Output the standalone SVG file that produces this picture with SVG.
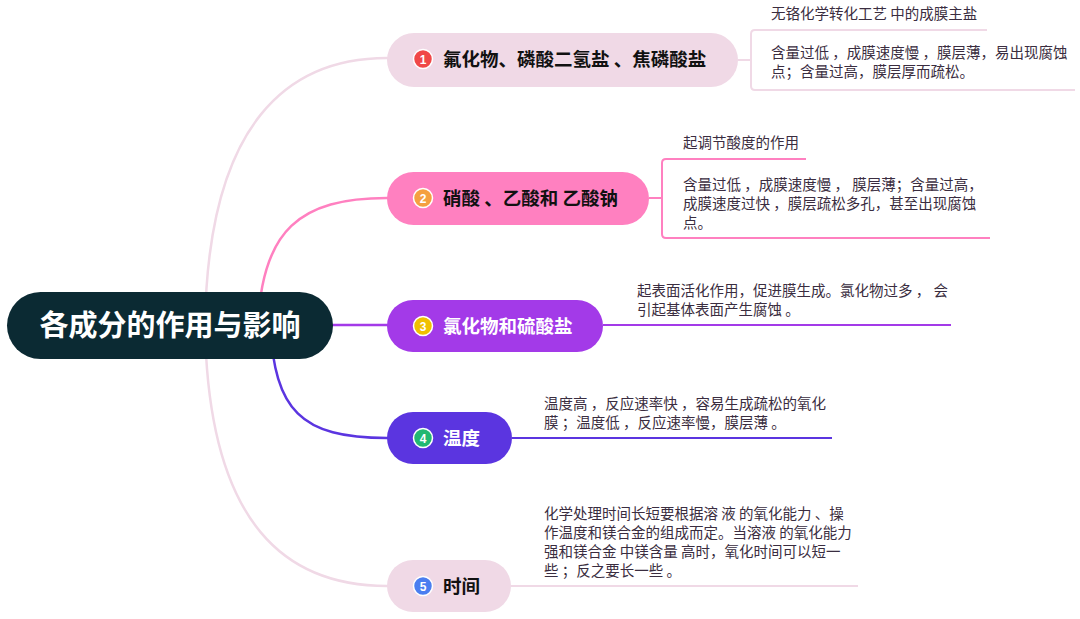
<svg xmlns="http://www.w3.org/2000/svg" width="1080" height="619" viewBox="0 0 1080 619">
<style>
.lbl{font-family:"Noto Sans CJK SC","Liberation Sans",sans-serif;font-weight:bold;font-size:18.5px}
.leaf{font-family:"Noto Sans CJK SC","Liberation Sans",sans-serif;font-size:14.5px;fill:#3a2d40}
.num{font-family:"Liberation Sans",sans-serif;font-weight:bold;font-size:12px;fill:#ffffff;text-anchor:middle}
.c{fill:none;stroke-width:2.5;stroke-linecap:round}
.l{fill:none;stroke-width:2}
</style>
<rect width="1080" height="619" fill="#ffffff"/>
<g id="connectors">
<path class="c" stroke="#f0d9e6" d="M205,325 C208,120 290,58 387,58"/>
<path class="c" stroke="#f0d9e6" d="M205,325 C208,530 290,586 387,586"/>
<path class="c" stroke="#ff80c0" d="M258,325 C262,230 300,198 387,198"/>
<path class="c" stroke="#a33ae8" d="M300,325 L387,325"/>
<path class="c" stroke="#5b35e0" d="M270,325 C275,410 300,438 387,438"/>
<path class="l" stroke="#f0d9e6" d="M738,60 L751,60 M987,30 L755,30 Q751,30 751,34 L751,86 Q751,90 755,90 L1075,90"/>
<path class="l" stroke="#ff80c0" d="M649,198 L662,198 M806,159 L666,159 Q662,159 662,163 L662,234 Q662,238 666,238 L990,238"/>
<path class="l" stroke="#a33ae8" d="M603,325 L951,325"/>
<path class="l" stroke="#5b35e0" d="M512,438 L832,438"/>
<path class="l" stroke="#f0d9e6" d="M511,586 L858,586"/>
</g>
<g id="root">
<rect x="7" y="292" width="326" height="67" rx="33.5" fill="#0b2a33"/>
<text x="170" y="336" text-anchor="middle" font-family="Noto Sans CJK SC,Liberation Sans,sans-serif" font-weight="bold" font-size="29" fill="#ffffff">各成分的作用与影响</text>
</g>
<g id="node1">
<rect x="387" y="33" width="351" height="54" rx="27" fill="#f0d9e6"/>
<circle cx="423" cy="59" r="9.5" fill="#f04848" stroke="#ffffff" stroke-width="1.5"/>
<text class="num" x="423" y="63.5">1</text>
<text class="lbl" x="443" y="66" fill="#111111">氟化物、磷酸二氢盐 、焦磷酸盐</text>
</g>
<g id="leaf1a"><text class="leaf" x="771" y="19">无铬化学转化工艺 中的成膜主盐</text></g>
<g id="leaf1b"><text class="leaf" x="771" y="58">含量过低 ，成膜速度慢 ，膜层薄，易出现腐蚀</text><text class="leaf" x="771" y="77">点；含量过高，膜层厚而疏松。</text></g>
<g id="node2">
<rect x="387" y="172" width="262" height="53" rx="26.5" fill="#ff80c0"/>
<circle cx="423" cy="198" r="9.5" fill="#f5a040" stroke="#ffffff" stroke-width="1.5"/>
<text class="num" x="423" y="202.5">2</text>
<text class="lbl" x="443" y="205" fill="#111111">硝酸 、乙酸和 乙酸钠</text>
</g>
<g id="leaf2a"><text class="leaf" x="683" y="148">起调节酸度的作用</text></g>
<g id="leaf2b"><text class="leaf" x="683" y="190">含量过低 ，成膜速度慢 ，  膜层薄；含量过高，</text><text class="leaf" x="683" y="209">成膜速度过快 ，膜层疏松多孔，甚至出现腐蚀</text><text class="leaf" x="683" y="228">点。</text></g>
<g id="node3">
<rect x="387" y="300" width="216" height="52" rx="26" fill="#a33ae8"/>
<circle cx="423" cy="326" r="9.5" fill="#f0c000" stroke="#ffffff" stroke-width="1.5"/>
<text class="num" x="423" y="330.5">3</text>
<text class="lbl" x="443" y="333" fill="#ffffff">氯化物和硫酸盐</text>
</g>
<g id="leaf3"><text class="leaf" x="637" y="296">起表面活化作用，促进膜生成。氯化物过多 ，  会</text><text class="leaf" x="637" y="315">引起基体表面产生腐蚀 。</text></g>
<g id="node4">
<rect x="387" y="412" width="125" height="52" rx="26" fill="#5b35e0"/>
<circle cx="423" cy="438" r="9.5" fill="#22b872" stroke="#ffffff" stroke-width="1.5"/>
<text class="num" x="423" y="442.5">4</text>
<text class="lbl" x="443" y="445" fill="#ffffff">温度</text>
</g>
<g id="leaf4"><text class="leaf" x="544" y="409">温度高 ，反应速率快 ，容易生成疏松的氧化</text><text class="leaf" x="544" y="428">膜 ；温度低 ，反应速率慢，膜层薄 。</text></g>
<g id="node5">
<rect x="387" y="560" width="124" height="52" rx="26" fill="#f0d9e6"/>
<circle cx="423" cy="586" r="9.5" fill="#4a7ef0" stroke="#ffffff" stroke-width="1.5"/>
<text class="num" x="423" y="590.5">5</text>
<text class="lbl" x="443" y="593" fill="#111111">时间</text>
</g>
<g id="leaf5"><text class="leaf" x="544" y="519">化学处理时间长短要根据溶 液 的氧化能力 、操</text><text class="leaf" x="544" y="538">作温度和镁合金的组成而定。当溶液 的氧化能力</text><text class="leaf" x="544" y="557">强和镁合金 中镁含量 高时，氧化时间可以短一</text><text class="leaf" x="544" y="576">些 ；反之要长一些 。</text></g>
</svg>
